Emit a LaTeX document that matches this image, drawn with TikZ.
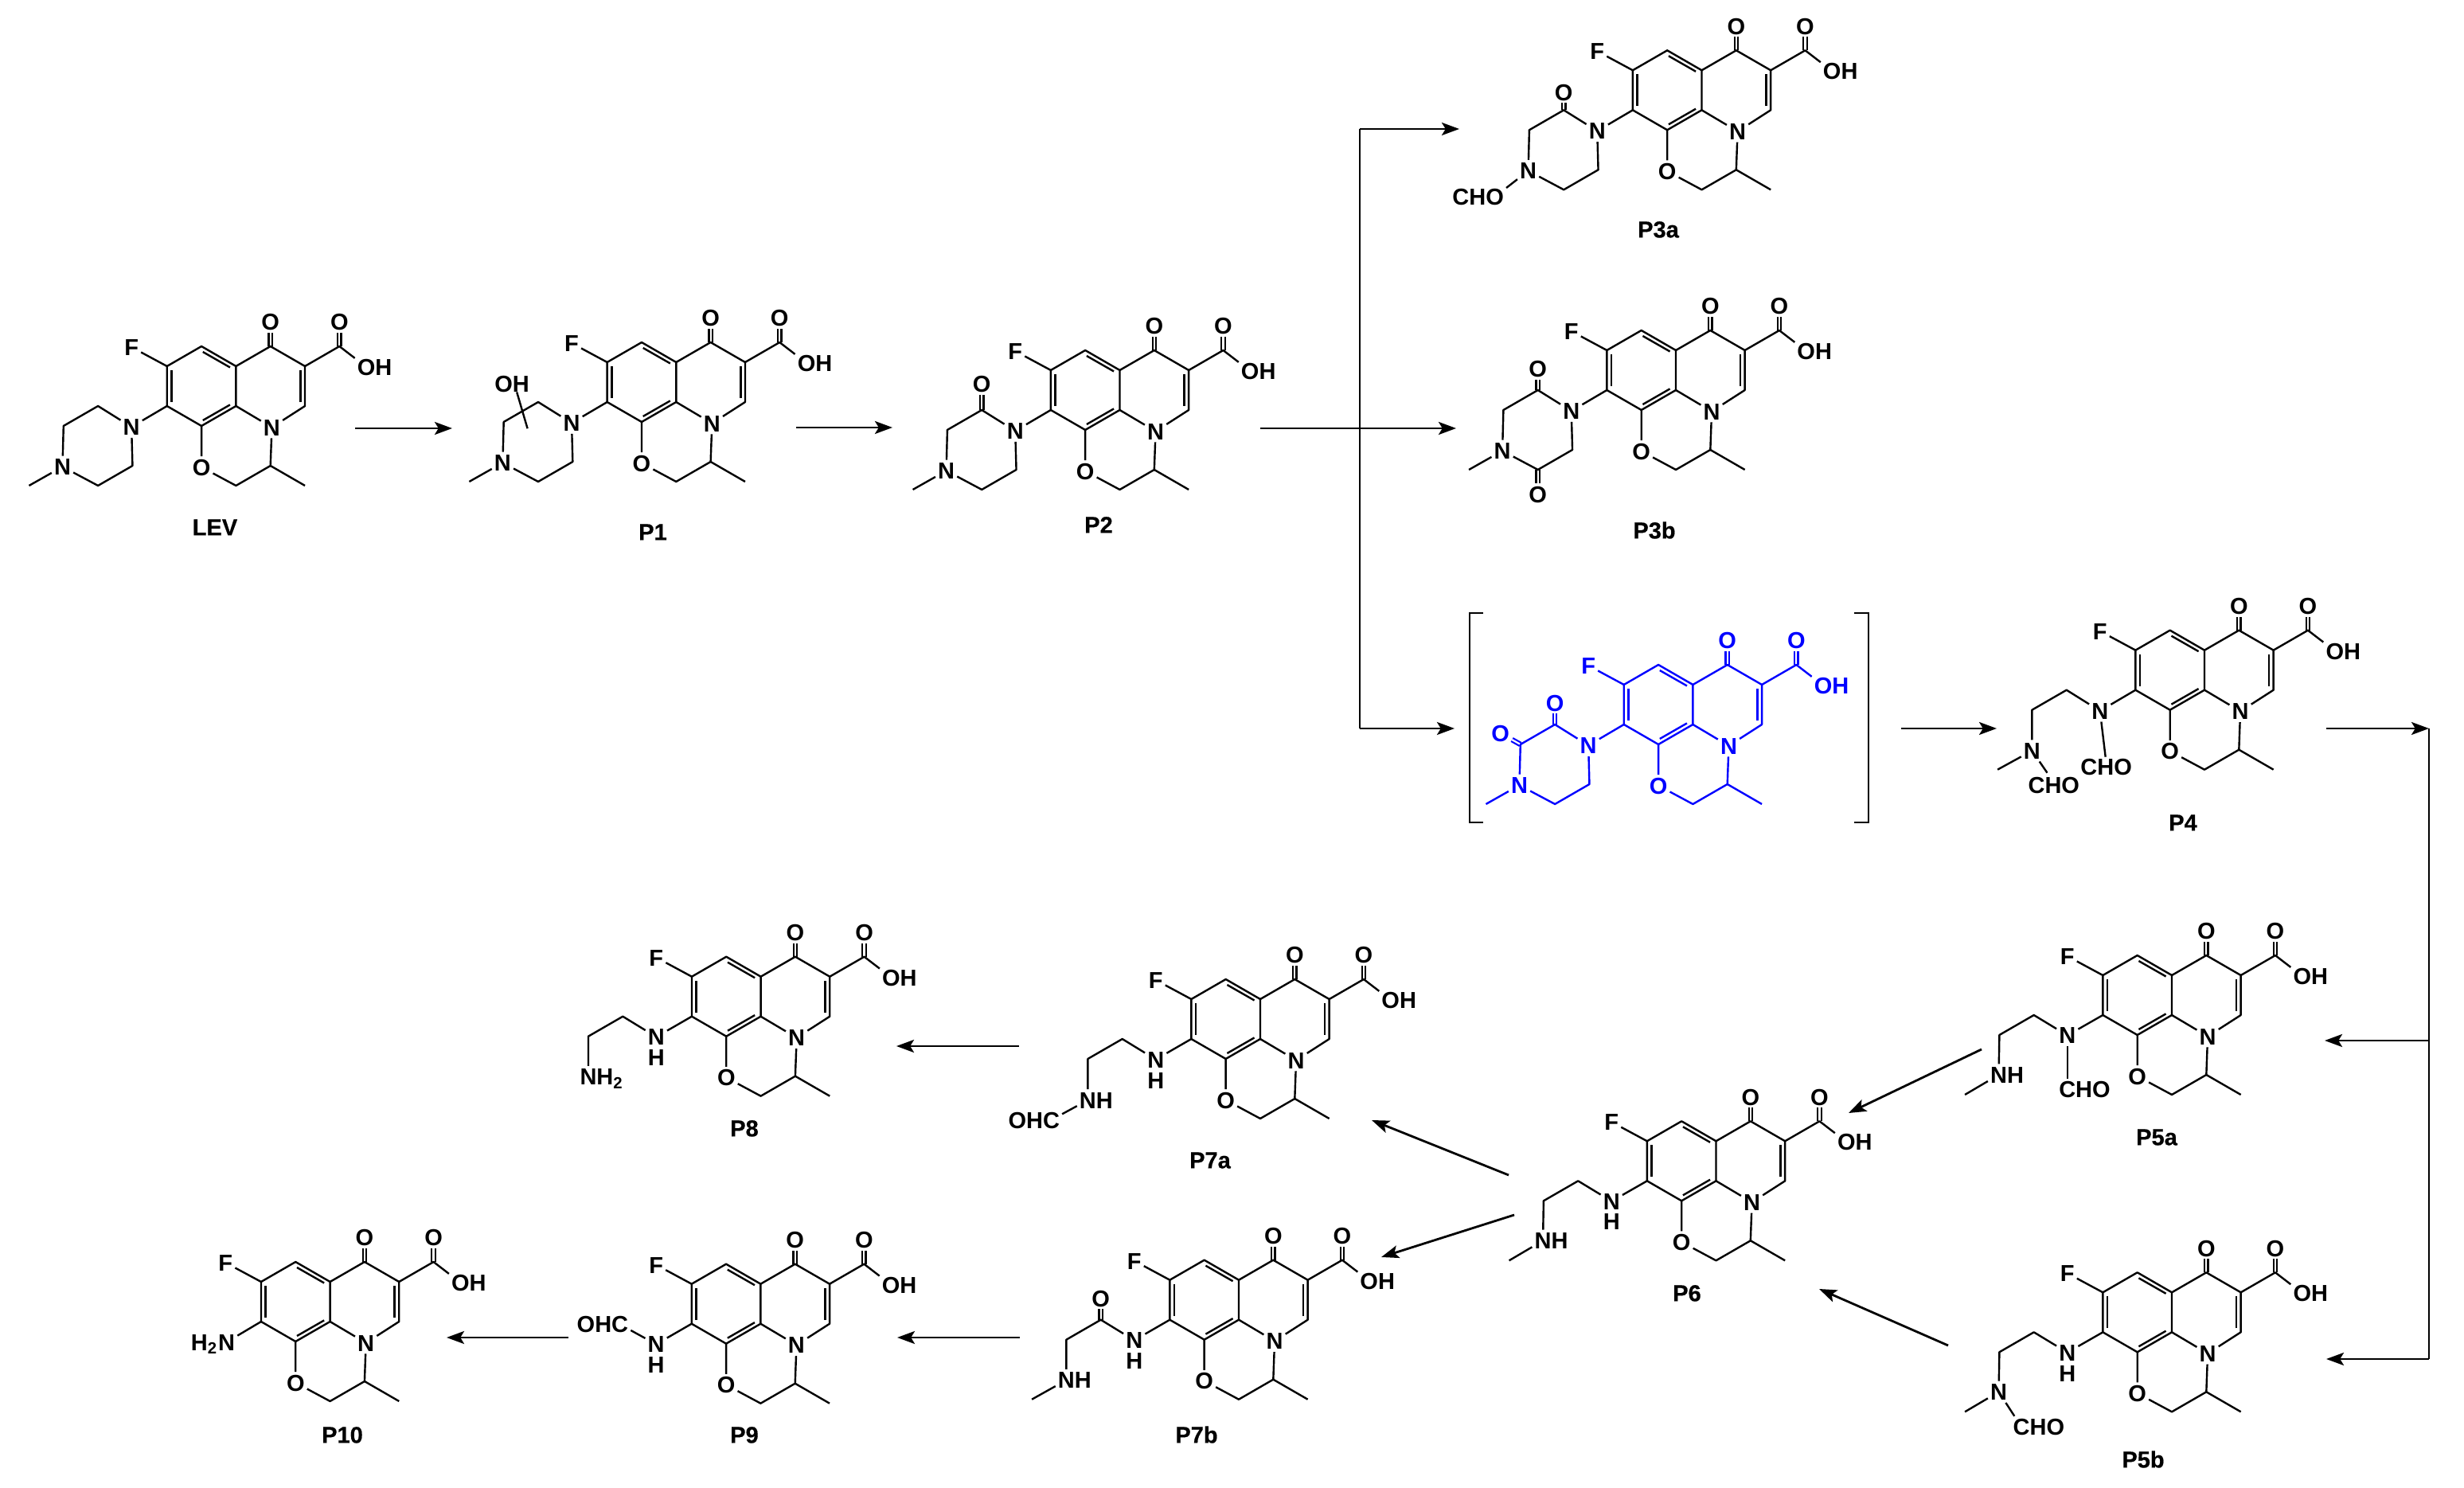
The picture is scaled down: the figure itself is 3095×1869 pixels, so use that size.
\documentclass[tikz,border=0pt]{standalone}
\usepackage{fontspec}
\setmainfont{Liberation Sans}
\usetikzlibrary{arrows.meta}
\tikzset{
    atom/.style={inner sep=.6pt, text height=5.2pt, text depth=0pt, font=\fontsize{7.25}{8}\selectfont\bfseries},
    molname/.style={inner sep=0pt, text height=5.2pt, text depth=0pt, font=\fontsize{7.25}{8}\selectfont\bfseries\addfontfeature{FakeBold=.5}},
    bond/.style={line width=.6pt, line join=round},
    dbond/.style={line width=.55pt, double, double distance=.55pt},
    rxn/.style={line width=.7pt, -{Stealth[length=5.5pt, width=4pt, inset=1.2pt]}},
    rail/.style={line width=.7pt, line join=miter},
    mol/.style={name prefix=#1-, x=10.83pt, y=6.25pt},
}
\begin{document}
\begin{tikzpicture}[x=.25pt, y=-.25pt]

    \useasboundingbox (0,0) rectangle (3095,1869);

    % Fused rings shared by every compound
    \def\core{
        \coordinate (c1)  at ( 0, 0);
        \coordinate (c2)  at ( 0, 2);
        \coordinate (c3)  at (-1, 3);
        \coordinate (c4)  at (-2, 2);
        \coordinate (c5)  at (-2, 0);
        \coordinate (c6)  at (-1,-1);
        \coordinate (c7)  at ( 1, 3);
        \coordinate (c8)  at ( 2, 2);
        \coordinate (c9)  at ( 2, 0);
        \coordinate (c10) at ( 3, 3);
        \coordinate (c11) at ( 1,-3);
        \coordinate (c12) at ( 0,-4);
        \coordinate (c13) at ( 2,-4);
        \coordinate (r1)  at (-4, 0);
        \coordinate (r2)  at (-5,-1);
        \coordinate (r3)  at (-3,-3);
        \coordinate (r4)  at (-4,-4);
        \coordinate (me)  at (-6,-4);
        \node[atom] (nq) at ( 1.04,-1.07) {N};
        \node[atom] (oq) at (-1   ,-3.07) {O};
        \node[atom] (fq) at (-3.03, 2.96) {F};
        \node[atom] (o1) at ( 1   , 4.22) {O};
        \node[atom] (o2) at ( 3   , 4.22) {O};
        \node[atom] (oh) at ( 3.78, 1.96) {O\rlap{H}};
        \draw[dbond] (c7)  -- (o1);
        \draw[dbond] (c10) -- (o2);
        \draw[bond] (c1) -- (c2) -- (c3) -- (c4) -- (c5) -- (c6) -- cycle;
        \draw[bond] (c2) -- (c7) -- (c8) -- (c9) -- (nq) -- (c1);
        \draw[bond] (c8) -- (c10) -- (oh);
        \draw[bond] (c4) -- (fq);
        \draw[bond] (c6) -- (oq) -- (c12) -- (c11) -- (nq);
        \draw[bond] (c11) -- (c13);
        % Inner strokes of the ring double bonds
        \draw[bond] (-1.87, .2) -- (-1.87,1.8);
        \draw[bond] ( 1.87, .2) -- ( 1.87,1.8);
        \draw[bond] (-.96, 2.72) -- (-.172,1.94);
        \draw[bond] (-.96,-.72) -- (-.172,.064);
    }

    % LEV
    \begin{scope}[shift={(296.4,510)}, mol=lev]
        \core
        \node[atom] (n1) at (-3.03,-1.05) {N};
        \node[atom] (n4) at (-5.03,-3.05) {N};
        \draw[bond] (c5) -- (n1) -- (r1) -- (r2) -- (n4) -- (r4) -- (r3) -- (n1);
        \draw[bond] (n4) -- (me);
    \end{scope}
    \node[molname] (lev) at (270,662) {LEV};

    % P1
    \begin{scope}[shift={(849.3,505)}, mol=p1]
        \core
        \node[atom] (n1) at (-3.03,-1.05) {N};
        \node[atom] (n4) at (-5.03,-3.05) {N};
        \node[atom] (o3) at (-5,.93) {O\rlap{H}};
        \coordinate (oa) at (-4.62,.5);
        \coordinate (ob) at (-4.31,-1.33);
        \draw[bond] (c5) -- (n1) -- (r1) -- (r2) -- (n4) -- (r4) -- (r3) -- (n1);
        \draw[bond] (n4) -- (me);
        \draw[bond] (oa) -- (ob);
    \end{scope}
    \node[molname] (p1) at (820,668) {P1};

    % P2
    \begin{scope}[shift={(1406.5,515)}, mol=p2]
        \core
        \node[atom] (n1) at (-3.03,-1.05) {N};
        \node[atom] (n4) at (-5.03,-3.05) {N};
        \node[atom] (o3) at (-4,1.3) {O};
        \draw[dbond] (r1) -- (o3);
        \draw[bond] (c5) -- (n1) -- (r1) -- (r2) -- (n4) -- (r4) -- (r3) -- (n1);
        \draw[bond] (n4) -- (me);
    \end{scope}
    \node[molname] (p2) at (1380,659) {P2};

    % P3a
    \begin{scope}[shift={(2137.5,138.3)}, mol=p3a]
        \core
        \node[atom] (n1) at (-3.03,-1.05) {N};
        \node[atom] (n4) at (-5.03,-3.05) {N};
        \node[atom] (o3) at (-4,.9) {O};
        \node[atom] (ch) at (-6,-4.36) {\llap{CH}O};
        \draw[dbond] (r1) -- (o3);
        \draw[bond] (c5) -- (n1) -- (r1) -- (r2) -- (n4) -- (r4) -- (r3) -- (n1);
        \draw[bond] (n4) -- (ch);
    \end{scope}
    \node[molname] (p3a) at (2083,288) {P3a};

    % P3b
    \begin{scope}[shift={(2105,490)}, mol=p3b]
        \core
        \node[atom] (n1) at (-3.03,-1.05) {N};
        \node[atom] (n4) at (-5.03,-3.05) {N};
        \node[atom] (o3) at (-4,1.07) {O};
        \node[atom] (o4) at (-4,-5.23) {O};
        \draw[dbond] (r1) -- (o3);
        \draw[dbond] (r4) -- (o4);
        \draw[bond] (c5) -- (n1) -- (r1) -- (r2) -- (n4) -- (r4) -- (r3) -- (n1);
        \draw[bond] (n4) -- (me);
    \end{scope}
    \node[molname] (p3b) at (2078,666) {P3b};

    % Intermediate in brackets
    \begin{scope}[shift={(2126.4,910)}, mol=int, blue]
        \core
        \node[atom] (n1) at (-3.03,-1.05) {N};
        \node[atom] (n4) at (-5.03,-3.05) {N};
        \node[atom] (o3) at (-4,1.09) {O};
        \node[atom] (o4) at (-5.58,-.44) {O};
        \draw[dbond] (r1) -- (o3);
        \draw[dbond] (r2) -- (o4);
        \draw[bond] (c5) -- (n1) -- (r1) -- (r2) -- (n4) -- (r4) -- (r3) -- (n1);
        \draw[bond] (n4) -- (me);
    \end{scope}
    \draw[rail] (1863,770) -- (1846,770) -- (1846,1033) -- (1863,1033);
    \draw[rail] (2329,770) -- (2347,770) -- (2347,1033) -- (2329,1033);

    % P4
    \begin{scope}[shift={(2769,866.7)}, mol=p4]
        \core
        \node[atom] (n1) at (-3.03,-1.05) {N};
        \node[atom] (n4) at (-5,-3.05) {N};
        \node[atom] (ch1) at (-3.35,-3.84) {C\rlap{HO}};
        \node[atom] (ch2) at (-4.87,-4.77) {C\rlap{HO}};
        \coordinate (x1) at (-2.87,-3.36);
        \coordinate (x2) at (-4.56,-4.16);
        \draw[bond] (c5) -- (n1) -- (r1) -- (r2) -- (n4) -- (me);
        \draw[bond] (n1) -- (x1);
        \draw[bond] (n4) -- (x2);
    \end{scope}
    \node[molname] (p4) at (2742,1033) {P4};

    % P5a
    \begin{scope}[shift={(2728,1275)}, mol=p5a]
        \core
        \node[atom] (n1) at (-3.03,-1.02) {N};
        \node[atom] (n4) at (-5.02,-3) {N\rlap{H}};
        \node[atom] (ch) at (-3.03,-3.73) {C\rlap{HO}};
        \draw[bond] (c5) -- (n1) -- (r1) -- (r2) -- (n4) -- (me);
        \draw[bond] (n1) -- (ch);
    \end{scope}
    \node[molname] (p5a) at (2709,1428) {P5a};

    % P5b
    \begin{scope}[shift={(2728,1673.3)}, mol=p5b]
        \core
        \node[atom] (n1) at (-3.03,-1.02) {N};
        \node[atom] (h1) at (-3.03,-2.07) {H};
        \node[atom] (n4) at (-5.02,-3) {N};
        \node[atom] (ch) at (-4.36,-4.76) {C\rlap{HO}};
        \draw[bond] (c5) -- (n1) -- (r1) -- (r2) -- (n4) -- (me);
        \draw[bond] (n4) -- (ch);
    \end{scope}
    \node[molname] (p5b) at (2692,1833) {P5b};

    % P6
    \begin{scope}[shift={(2155.5,1483.3)}, mol=p6]
        \core
        \node[atom] (n1) at (-3.03,-1.02) {N};
        \node[atom] (h1) at (-3.03,-2.05) {H};
        \node[atom] (n4) at (-5.02,-3) {N\rlap{H}};
        \draw[bond] (c5) -- (n1) -- (r1) -- (r2) -- (n4) -- (me);
    \end{scope}
    \node[molname] (p6) at (2119,1624) {P6};

    % P7a
    \begin{scope}[shift={(1583,1305)}, mol=p7a]
        \core
        \node[atom] (n1) at (-3.03,-1.03) {N};
        \node[atom] (h1) at (-3.03,-2.09) {H};
        \node[atom] (n4) at (-5,-3.07) {N\rlap{H}};
        \node[atom] (ch) at (-6.06,-4.07) {\llap{OH}C};
        \draw[bond] (c5) -- (n1) -- (r1) -- (r2) -- (n4) -- (ch);
    \end{scope}
    \node[molname] (p7a) at (1520,1457) {P7a};

    % P7b
    \begin{scope}[shift={(1556,1657.7)}, mol=p7b]
        \core
        \node[atom] (n1) at (-3.03,-1.03) {N};
        \node[atom] (h1) at (-3.03,-2.05) {H};
        \node[atom] (n4) at (-5,-3.03) {N\rlap{H}};
        \node[atom] (o3) at (-4,1.08) {O};
        \draw[dbond] (r1) -- (o3);
        \draw[bond] (c5) -- (n1) -- (r1) -- (r2) -- (n4) -- (me);
    \end{scope}
    \node[molname] (p7b) at (1503,1802) {P7b};

    % P8
    \begin{scope}[shift={(955.6,1276.7)}, mol=p8]
        \core
        \node[atom] (n1) at (-3.03,-1.03) {N};
        \node[atom] (h1) at (-3.03,-2.07) {H};
        \node[atom] (n4) at (-5,-3.03) {N\rlap{H\textsubscript{2}}};
        \draw[bond] (c5) -- (n1) -- (r1) -- (r2) -- (n4);
    \end{scope}
    \node[molname] (p8) at (935,1417) {P8};

    % P9
    \begin{scope}[shift={(955.4,1662.7)}, mol=p9]
        \core
        \node[atom] (n1) at (-3.03,-1.03) {N};
        \node[atom] (h1) at (-3.03,-2.05) {H};
        \node[atom] (ch) at (-4.08,-.03) {\llap{OH}C};
        \draw[bond] (c5) -- (n1) -- (ch);
    \end{scope}
    \node[molname] (p9) at (935,1802) {P9};

    % P10
    \begin{scope}[shift={(414.6,1660)}, mol=p10]
        \core
        \node[atom] (n1) at (-3,-1.03) {\llap{H\textsubscript{2}}N};
        \draw[bond] (c5) -- (n1);
    \end{scope}
    \node[molname] (p10) at (430,1802) {P10};

    % Straight reaction arrows
    \foreach \n/\xa/\ya/\xb/\yb in {
        e1/446/538/568/538,      e2/1000/537/1121/537,
        e3/2388/915/2508/915,    e4/2922/915/3051/915,
        e5/2489/1318/2322/1398,  e6/2447/1690/2285/1619,
        e7/1895/1476/1723/1407,  e8/1902/1526/1735/1579,
        e9/1280/1314/1126/1314,  e10/1281/1680/1127/1680,
        e11/714/1680/561/1680}{
        \coordinate (\n s) at (\xa,\ya);
        \coordinate (\n t) at (\xb,\yb);
        \draw[rxn] (\n s) -- (\n t);
    }

    % Branch after P2
    \coordinate (b0) at (1583,538);
    \coordinate (b1) at (1708,538);
    \coordinate (b2) at (1708,162);
    \coordinate (b3) at (1708,915);
    \coordinate (t1) at (1833,162);
    \coordinate (t2) at (1829,538);
    \coordinate (t3) at (1827,915);
    \draw[rail] (b2) -- (b3);
    \draw[rxn] (b2) -- (t1);
    \draw[rxn] (b0) -- (t2);
    \draw[rxn] (b3) -- (t3);

    % Branch after P4
    \coordinate (d1) at (3051,915);
    \coordinate (d2) at (3051,1307);
    \coordinate (d3) at (3051,1707);
    \coordinate (t4) at (2920,1307);
    \coordinate (t5) at (2922,1707);
    \draw[rail] (d1) -- (d3);
    \draw[rxn] (d2) -- (t4);
    \draw[rxn] (d3) -- (t5);

\end{tikzpicture}
\end{document}
